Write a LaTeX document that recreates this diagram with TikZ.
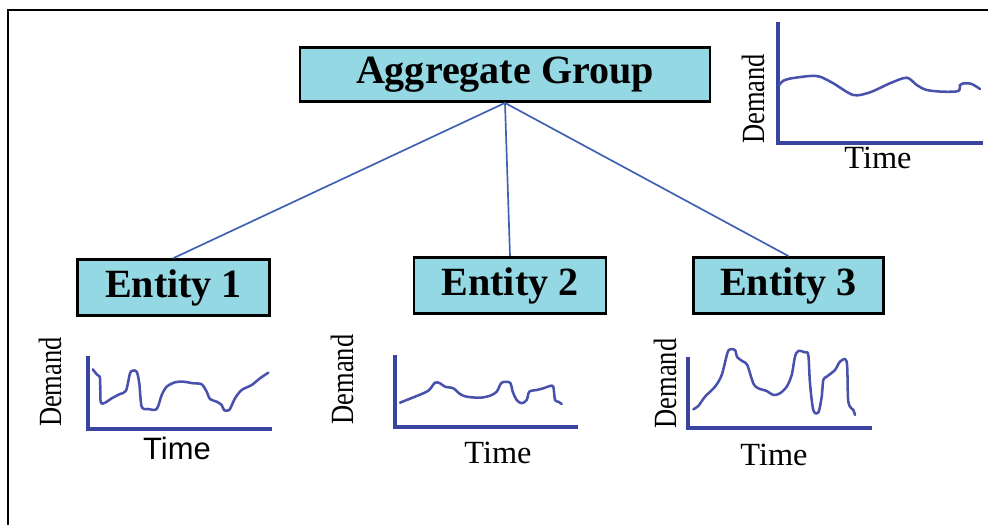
\documentclass[tikz,border=0pt]{standalone}
\usepackage{fontspec}
\setmainfont{Liberation Serif}
\newfontfamily\arialfont{Liberation Sans}
\usetikzlibrary{positioning}
\definecolor{boxcyan}{RGB}{148,216,228}
\definecolor{linkblue}{RGB}{62,98,178}
\definecolor{axisblue}{RGB}{58,68,160}
\definecolor{curveblue}{RGB}{72,82,172}
\tikzset{
  groupbox/.style={draw=black, line width=2pt, fill=boxcyan, inner sep=0pt,
    font=\fontsize{28.5}{32}\selectfont\bfseries},
  link/.style={draw=linkblue, line width=1.2pt},
  axisline/.style={draw=axisblue, line width=2.4pt},
  curve/.style={draw=curveblue, line width=1.8pt, line join=round, line cap=round},
  ylab/.style={rotate=90, inner sep=0pt, font=\fontsize{23}{26}\selectfont},
  xlab/.style={inner sep=0pt, font=\fontsize{23}{26}\selectfont},
}
\newcommand{\demandtext}{\scalebox{0.82}[1]{Demand}}

\begin{document}
\begin{tikzpicture}[x=0.025cm, y=-0.025cm]
\useasboundingbox (0,0) rectangle (988,525);
\draw[line width=1.4pt](8,525) -- (8,10) -- (988,10);

\node[groupbox, minimum width=10.25cm, minimum height=1.35cm] (agg) at (505,74.5) {Aggregate Group};
\node[groupbox, minimum width=4.8cm, minimum height=1.4cm] (ent1) at (173.5,287.5) {Entity 1};
\node[groupbox, minimum width=4.8cm, minimum height=1.4cm] (ent2) at (510,285.5) {Entity 2};
\node[groupbox, minimum width=4.75cm, minimum height=1.4cm] (ent3) at (788.5,285.5) {Entity 3};

\draw[link](agg.south) -- (ent1.north);
\draw[link](agg.south) -- (ent2.north);
\draw[link](agg.south) -- (ent3.north);

\draw[axisline](778,22) -- (778,143) -- (983,143);
\node[ylab] (dem0) at (753,99) {\demandtext};
\node[xlab] (time0) at (878,158) {Time};
\draw[curve] plot[smooth, tension=0.5] coordinates {(779.3,85) (783.3,80.7) (791.7,78.3) (810,76) (820,76.7) (833.3,83.3) (853.3,95) (870,92.3) (890,83.3) (906.7,77.7) (916.7,85) (926.7,90) (943.3,91.7) (958.3,91) (960,85) (963.3,83.3) (971.7,84) (980,89)};

\draw[axisline](88,356) -- (88,429) -- (272,429);
\node[ylab] (dem1) at (50,382) {\demandtext};
\node[xlab, font=\fontsize{22}{26}\selectfont\arialfont] (time1) at (177,448) {Time};
\draw[curve] plot[smooth, tension=0.5] coordinates {(92.7,369.3) (97.3,375) (100,378.3) (100.7,401.7) (105,402.7) (111.7,398.3) (120,394) (126,390.7) (130,373.3) (132.7,370.7) (136.7,371.7) (139.3,383.3) (141.7,406.7) (148.3,409) (156.7,409) (161.7,395) (166.7,386.7) (175,382.3) (183.3,381.7) (193.3,383.3) (201.7,384.3) (206.7,391.7) (210,399) (216.7,401.7) (221.7,405) (224,410) (229.3,410) (235,398.3) (241.7,390) (251.7,385) (260,378.3) (268.3,372.7)};

\draw[axisline](395,355) -- (395,427) -- (578,427);
\node[ylab] (dem2) at (342,379.5) {\demandtext};
\node[xlab] (time2) at (498,453) {Time};
\draw[curve] plot[smooth, tension=0.5] coordinates {(400,402.7) (406.7,400) (416.7,396) (428.3,390.7) (435,382.7) (440,383.3) (445,386.7) (453.3,388.3) (460,394) (466.7,396.7) (480,397.7) (490,395.7) (496.7,391.7) (501.7,382.7) (510,382.7) (512.7,391.7) (516.7,400) (521.7,403.3) (526.7,400) (529.3,391.7) (536.7,390) (543.3,388.3) (550,386) (553.3,386.7) (555,400) (558.3,401.7) (561.7,404)};

\draw[axisline](688,357) -- (688,428) -- (872,428);
\node[ylab] (dem3) at (665,383.5) {\demandtext};
\node[xlab] (time3) at (774,455) {Time};
\draw[curve] plot[smooth, tension=0.5] coordinates {(693.3,409.3) (698.3,406) (705,396.7) (715,386.7) (721.7,375) (727.3,353.3) (730,349.3) (735,350) (737.3,357.3) (743.3,361.7) (747.3,365) (753.3,383.3) (758.3,388.3) (766.7,391) (773.3,395) (780,393.3) (786.7,386.7) (791.7,375) (795,356.7) (798.3,351) (805,352.3) (808.3,355) (810,383.3) (813.3,410) (818.3,412.7) (821.7,396.7) (823.3,380) (826.7,376.7) (835,370) (840,361.7) (846.7,361.7) (848.3,401.7) (853.3,410) (855,415)};
\end{tikzpicture}
\end{document}
